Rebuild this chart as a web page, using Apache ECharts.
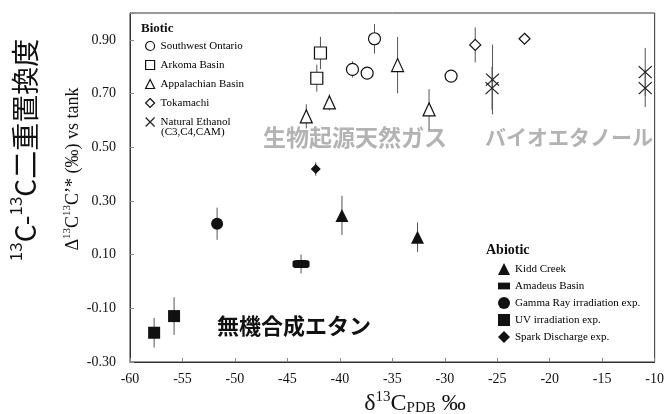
<!DOCTYPE html>
<html><head><meta charset="utf-8">
<script src="https://cdn.jsdelivr.net/npm/echarts@6/dist/echarts.min.js"></script>
<style>html,body{margin:0;padding:0;background:#fff}#c{width:667px;height:414px}</style>
</head><body><div id="c"></div>
<script>
// [x (δ13C), y (Δ13C13C), error]
const southwestOntario = [[-38.8,0.79,0.03],[-37.4,0.776,0],[-36.7,0.904,0.055],[-29.4,0.765,0]];
const arkomaBasin = [[-41.85,0.851,0.06],[-42.2,0.757,0.05]];
const appalachianBasin = [[-43.2,0.615,0.045],[-41.0,0.667,0.03],[-34.5,0.806,0.105],[-31.5,0.641,0.075]];
const tokamachi = [[-27.1,0.881,0.065],[-22.4,0.904,0]];
const naturalEthanol = [[-25.45,0.752,0.13],[-25.5,0.72,0.08],[-10.9,0.78,0.09],[-10.9,0.72,0.07]];
const kiddCreek = [[-39.8,0.246,0.073],[-32.6,0.165,0.055]];
const amadeusBasin = [[-43.7,0.065,0.035]];
const gammaRay = [[-51.7,0.215,0.06]];
const uvIrradiation = [[-57.7,-0.191,0.055],[-55.8,-0.129,0.07]];
const sparkDischarge = [[-42.3,0.419,0.025]];
const bioticNames = ['Southwest Ontario','Arkoma Basin','Appalachian Basin','Tokamachi','Natural Ethanol'];
const abioticNames = ['Kidd Creek','Amadeus Basin','Gamma Ray irradiation exp.','UV irradiation exp.','Spark Discharge exp.'];
const xMin=-60, xMax=-10, xStep=5;
const yMin=-0.3, yMax=1.0, yStep=0.2;

const SERIF = 'Liberation Serif';
const CROSS = 'path://M0,0L10,10M10,0L0,10';
const hollow = {color:'#fff', borderColor:'#111', borderWidth:1.2, opacity:1};
const solid = {color:'#111', borderColor:'#111', borderWidth:0, opacity:1};

function scatter(name, data, symbol, size, style){
  return {type:'scatter', name, data, symbol, symbolSize:size, itemStyle:style, z:3, silent:true};
}
function errBars(data){
  return {type:'custom', data, encode:{x:0,y:1}, z:1, silent:true,
    renderItem:function(params, api){
      const x=api.value(0), y=api.value(1), e=api.value(2);
      if(!e) return null;
      const p1=api.coord([x,y-e]), p2=api.coord([x,y+e]);
      return {type:'line', shape:{x1:p1[0],y1:p1[1],x2:p2[0],y2:p2[1]}, style:{stroke:'#555', lineWidth:1}};
    }};
}
const allData=[southwestOntario,arkomaBasin,appalachianBasin,tokamachi,naturalEthanol,kiddCreek,amadeusBasin,gammaRay,uvIrradiation,sparkDischarge];

const chart = echarts.init(document.getElementById('c'), null, {renderer:'canvas'});
chart.setOption({
  animation:false,
  grid:{left:130, top:13, right:11, bottom:52, show:true, borderColor:'#333', borderWidth:1},
  xAxis:{type:'value', min:xMin, max:xMax, interval:xStep,
    axisLine:{show:true, onZero:false, lineStyle:{color:'#333'}},
    axisTick:{show:true, inside:true, length:4, lineStyle:{color:'#888'}},
    splitLine:{show:false},
    axisLabel:{fontFamily:SERIF, fontSize:14, color:'#111', margin:10}},
  yAxis:{type:'value', min:yMin, max:yMax, interval:yStep,
    axisLine:{show:true, onZero:false, lineStyle:{color:'#333'}},
    axisTick:{show:true, inside:true, length:4, lineStyle:{color:'#888'}},
    splitLine:{show:false},
    axisLabel:{fontFamily:SERIF, fontSize:14, color:'#111', margin:14,
      formatter:function(v){ return v>0.95 ? '' : v.toFixed(2); }}},
  legend:[
    {data:bioticNames, orient:'vertical', left:140, top:35, itemWidth:9, itemHeight:9, itemGap:7,
     itemStyle:{borderWidth:1.2},
     textStyle:{fontFamily:SERIF, fontSize:11, color:'#000', lineHeight:12, padding:[0,0,0,1]}, selectedMode:false},
    {data:abioticNames.map(n=> n==='Amadeus Basin' ? {name:n, icon:'path://M0,0h16v9h-16z'} : n),
     orient:'vertical', left:493, top:258, itemWidth:12, itemHeight:12, itemGap:5,
     textStyle:{fontFamily:SERIF, fontSize:11, color:'#000', lineHeight:12}, selectedMode:false}
  ],
  graphic:[
    {type:'text', left:141, top:22, style:{text:'Biotic', font:'bold 13px '+SERIF, fill:'#111'}},
    {type:'text', left:161, top:127, style:{text:'(C3,C4,CAM)', font:'11px '+SERIF, fill:'#000'}},
    {type:'text', left:486, top:243, style:{text:'Abiotic', font:'bold 14px '+SERIF, fill:'#111'}},
    {type:'text', x:263, y:137, style:{text:'生物起源天然ガス', font:'bold 23px "Noto Sans CJK JP"', fill:'#b3b3b3', textVerticalAlign:'middle'}},
    {type:'text', x:485, y:137, style:{text:'バイオエタノール', font:'bold 21px "Noto Sans CJK JP"', fill:'#b3b3b3', textVerticalAlign:'middle'}},
    {type:'text', x:217, y:326, style:{text:'無機合成エタン', font:'bold 22px "Noto Sans CJK JP"', fill:'#111', textVerticalAlign:'middle'}},
    {type:'text', x:415, y:403, style:{
      text:'{n|δ}{s|13}{n|C}{b|PDB}{n| ‰}', textAlign:'center', textVerticalAlign:'middle',
      rich:{n:{fontFamily:SERIF, fontSize:24, lineHeight:26, fill:'#111', verticalAlign:'bottom'},
            s:{fontFamily:SERIF, fontSize:15, lineHeight:26, fill:'#111', verticalAlign:'top'},
            b:{fontFamily:SERIF, fontSize:15, lineHeight:15, fill:'#111', verticalAlign:'bottom'}}}},
    {type:'text', x:72, y:169, rotation:Math.PI/2, style:{
      text:'{n|Δ}{s|13}{n|C}{s|13}{n|C’* (‰) vs tank}', textAlign:'center', textVerticalAlign:'middle',
      rich:{n:{fontFamily:SERIF, fontSize:18, lineHeight:20, fill:'#111', verticalAlign:'bottom'},
            s:{fontFamily:SERIF, fontSize:11, lineHeight:11, fill:'#111', verticalAlign:'top'}}}},
    {type:'text', x:23, y:150, rotation:Math.PI/2, style:{
      text:'{s|13}{n|C-}{s|13}{n|C二重置換度}', textAlign:'center', textVerticalAlign:'middle',
      rich:{n:{fontFamily:'Noto Sans CJK JP', fontSize:28, lineHeight:32, fill:'#111', verticalAlign:'bottom'},
            s:{fontFamily:'Noto Sans CJK JP', fontSize:17, lineHeight:17, fill:'#111', verticalAlign:'top'}}}}
  ],
  series:[
    ...allData.map(errBars),
    scatter('Southwest Ontario', southwestOntario, 'circle', 12, hollow),
    scatter('Arkoma Basin', arkomaBasin, 'rect', 12, hollow),
    scatter('Appalachian Basin', appalachianBasin, 'triangle', [12,13], hollow),
    scatter('Tokamachi', tokamachi, 'diamond', 11, hollow),
    scatter('Natural Ethanol', naturalEthanol, CROSS, [13,12], {color:'rgba(0,0,0,0)', borderColor:'#222', borderWidth:1.2, opacity:1}),
    scatter('Kidd Creek', kiddCreek, 'triangle', [13,13], solid),
    scatter('Amadeus Basin', amadeusBasin, 'roundRect', [17,8], solid),
    scatter('Gamma Ray irradiation exp.', gammaRay, 'circle', 12, solid),
    scatter('UV irradiation exp.', uvIrradiation, 'rect', 12, solid),
    scatter('Spark Discharge exp.', sparkDischarge, 'diamond', 10, solid)
  ]
});
</script></body></html>
